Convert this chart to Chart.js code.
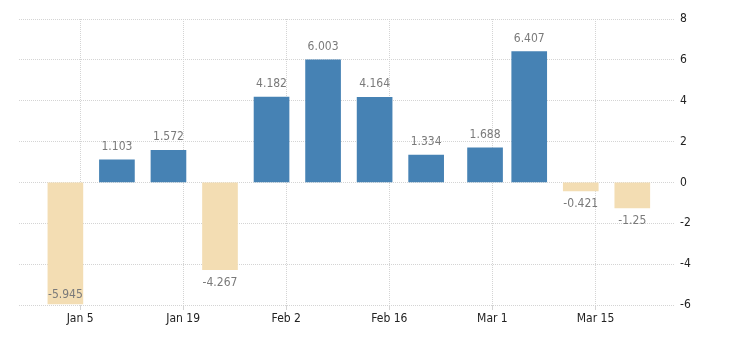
<!DOCTYPE html>
<html>
<head>
<meta charset="utf-8">
<title>Weekly change</title>
<script src="https://cdn.jsdelivr.net/npm/chart.js@4.4.1/dist/chart.umd.min.js"></script>
<style>
    html, body { margin: 0; padding: 0; background: #fff; }
    #wrap { width: 730px; height: 340px; position: relative; }
</style>
</head>
<body>
<div id="wrap"><canvas id="weeklyChart"></canvas></div>
<script>
// Week dates (bar positions) and values
const weekDates = ['2020-01-03', '2020-01-10', '2020-01-17', '2020-01-24', '2020-01-31', '2020-02-07',
                   '2020-02-14', '2020-02-21', '2020-02-29', '2020-03-06', '2020-03-13', '2020-03-20'];
const weekValues = [-5.945, 1.103, 1.572, -4.267, 4.182, 6.003, 4.164, 1.334, 1.688, 6.407, -0.421, -1.25];

// X axis tick labels and their dates
const tickDates = ['2020-01-05', '2020-01-19', '2020-02-02', '2020-02-16', '2020-03-01', '2020-03-15'];
const tickLabels = ['Jan 5', 'Jan 19', 'Feb 2', 'Feb 16', 'Mar 1', 'Mar 15'];

// Y axis ticks
const yTicks = [-6, -4, -2, 0, 2, 4, 6, 8];

const upColor = '#4682b4';
const downColor = '#f3ddb3';
const gridColor = '#d4d4d4';
const fontFamily = "'DejaVu Sans Condensed', 'Liberation Sans Narrow', 'Arial Narrow', sans-serif";

// Days since the first tick date
function dayOffset(dateStr) {
    const base = Date.parse(tickDates[0] + 'T00:00:00Z');
    return Math.round((Date.parse(dateStr + 'T00:00:00Z') - base) / 86400000);
}

const tickDays = tickDates.map(dayOffset);

// Value labels above / below each bar
const valueLabels = {
    id: 'valueLabels',
    afterDatasetsDraw(chart) {
        const ctx = chart.ctx;
        const area = chart.chartArea;
        const meta = chart.getDatasetMeta(0);
        ctx.save();
        ctx.font = '12px ' + fontFamily;
        ctx.fillStyle = '#7a7a7a';
        ctx.textAlign = 'center';
        ctx.textBaseline = 'middle';
        meta.data.forEach(function(bar, i) {
            const v = weekValues[i];
            let y = v >= 0 ? bar.y - 13 : bar.y + 13;
            if (y > area.bottom - 10) y = area.bottom - 10;
            ctx.fillText(String(v), bar.x, y);
        });
        ctx.restore();
    }
};

const ctx = document.getElementById('weeklyChart').getContext('2d');

new Chart(ctx, {
    type: 'bar',
    data: {
        datasets: [{
            data: weekDates.map(function(d, i) { return { x: dayOffset(d), y: weekValues[i] }; }),
            backgroundColor: weekValues.map(function(v) { return v >= 0 ? upColor : downColor; }),
            borderWidth: 0,
            barThickness: 35
        }]
    },
    options: {
        responsive: true,
        maintainAspectRatio: false,
        animation: false,
        layout: {
            padding: { top: 19, left: 19, right: 25, bottom: 5 }
        },
        plugins: {
            legend: { display: false },
            tooltip: { enabled: false }
        },
        scales: {
            x: {
                type: 'linear',
                min: -8.3,
                max: 80.8,
                offset: false,
                afterBuildTicks: function(axis) {
                    axis.ticks = tickDays.map(function(d) { return { value: d }; });
                },
                afterFit: function(axis) { axis.height = 30; },
                border: { display: false, dash: [1, 1] },
                grid: {
                    offset: false,
                    color: gridColor,
                    lineWidth: 1,
                    tickLength: 5,
                    tickColor: gridColor
                },
                ticks: {
                    autoSkip: false,
                    maxRotation: 0,
                    padding: 2,
                    color: '#222222',
                    font: { family: fontFamily, size: 12 },
                    callback: function(value) {
                        const idx = tickDays.indexOf(value);
                        return idx >= 0 ? tickLabels[idx] : '';
                    }
                }
            },
            y: {
                position: 'right',
                min: -6,
                max: 8,
                afterBuildTicks: function(axis) {
                    axis.ticks = yTicks.map(function(v) { return { value: v }; });
                },
                afterFit: function(axis) { axis.width = 30; },
                border: { display: false, dash: [1, 1] },
                grid: {
                    color: gridColor,
                    lineWidth: 1,
                    drawTicks: false
                },
                ticks: {
                    padding: 5,
                    color: '#222222',
                    font: { family: fontFamily, size: 12 }
                }
            }
        }
    },
    plugins: [valueLabels]
});
</script>
</body>
</html>
